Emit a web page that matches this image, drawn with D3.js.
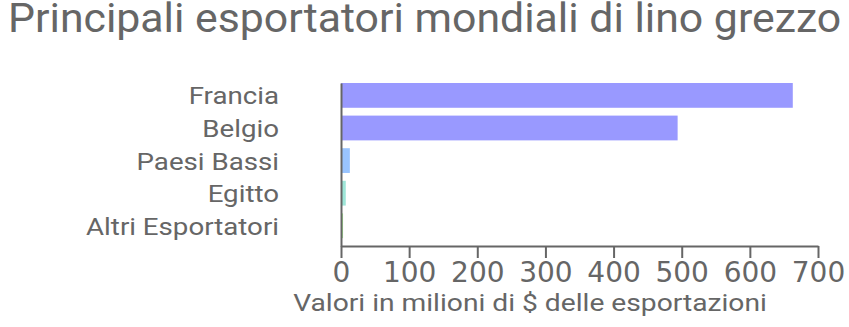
<!DOCTYPE html>
<html>
<head>
<meta charset="utf-8">
<script src="https://d3js.org/d3.v7.min.js"></script>
<style>
    body { margin: 0; background: #fff; }
    .x.axis text { font-family: "DejaVu Sans", sans-serif; font-size: 28px; fill: #666; }
    .x.axis line, .x.axis .domain, .y.axis .domain { stroke: #666; stroke-width: 2; }
    .y.axis text { font-family: Roboto, sans-serif; font-size: 24.5px; fill: #666; }
</style>
</head>
<body>
<svg id="chart" width="849" height="327"></svg>
<script>
    const countries = ["Francia", "Belgio", "Paesi Bassi", "Egitto", "Altri Esportatori"];
    const exportValues = [663, 494, 13, 7, 3];
    const barColors = ["#9999ff", "#9999ff", "#99c4ff", "#9ee6d8", "#a3e88f"];
    const xTicks = [0, 100, 200, 300, 400, 500, 600, 700];

    const svg = d3.select("#chart");
    const margins = { top: 83, left: 341, right: 31, bottom: 81 };
    const chartWidth = 849 - margins.left - margins.right;
    const chartHeight = 327 - margins.top - margins.bottom;

    const xScale = d3.scaleLinear().domain([0, 700]).range([0, chartWidth]);
    const yScale = d3.scaleBand().domain(countries).range([0, chartHeight]);
    const barHeight = yScale.bandwidth() * 0.76;

    const chartArea = svg.append("g")
        .attr("transform", "translate(" + margins.left + "," + margins.top + ")");

    chartArea.selectAll("rect").data(countries)
        .join("rect")
        .attr("x", 0)
        .attr("y", d => yScale(d))
        .attr("width", (d, i) => xScale(exportValues[i]))
        .attr("height", barHeight)
        .attr("fill", (d, i) => barColors[i]);

    // x axis
    chartArea.append("g")
        .attr("class", "x axis")
        .attr("transform", "translate(0," + chartHeight + ")")
        .call(d3.axisBottom(xScale).tickValues(xTicks).tickSize(12).tickPadding(3).tickSizeOuter(0))
        .call(g => g.selectAll("text").attr("dy", "0.75em"));

    // y axis, labels centred on the bars and a bit wider like the original
    const labelShift = (yScale.bandwidth() - barHeight) / 2;
    chartArea.append("g")
        .attr("class", "y axis")
        .call(d3.axisLeft(yScale).tickSize(0).tickSizeOuter(0))
        .call(g => g.selectAll("text")
            .attr("x", 0)
            .attr("dy", "0.37em")
            .attr("transform", "translate(-62," + (-labelShift) + ") scale(1.13,1)"));

    svg.append("text")
        .attr("transform", "translate(8,32) scale(1.07,1)")
        .style("font-family", "Roboto, sans-serif")
        .style("font-size", "40px")
        .style("fill", "#666")
        .text("Principali esportatori mondiali di lino grezzo");

    svg.append("text")
        .attr("transform", "translate(530,311) scale(1.2,1)")
        .attr("text-anchor", "middle")
        .style("font-family", "Roboto, sans-serif")
        .style("font-size", "23.5px")
        .style("fill", "#666")
        .text("Valori in milioni di $ delle esportazioni");
</script>
</body>
</html>
